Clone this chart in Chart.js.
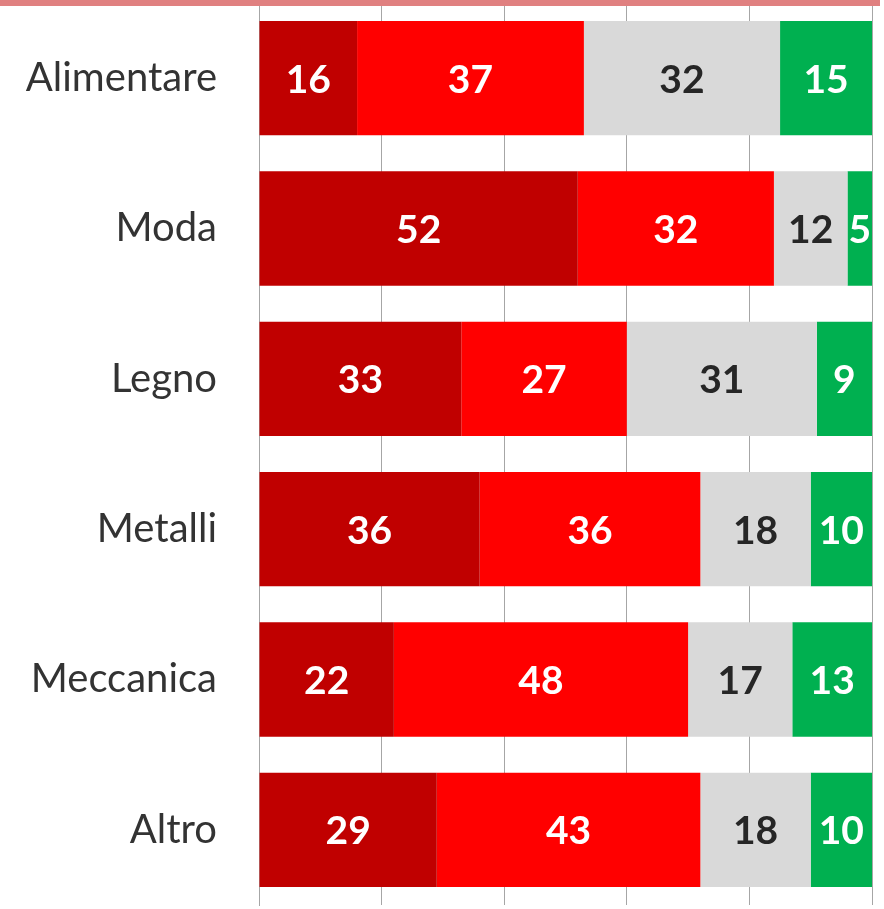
<!DOCTYPE html>
<html>
  <head>
    <title>Settori</title>
    <style>
      body {
        margin: 0;
        background: white;
      }

      .wrap{
        position: relative;
        width: 884px;
        height: 909px;
      }

      .topline{
        position: absolute;
        top: 0;
        left: 0;
        width: 880px;
        height: 6px;
        background-color: #E08080;
      }
    </style>
  </head>
  <body>
    <div class="wrap">
      <div class="topline"></div>
      <canvas id="settori" width="884" height="909"></canvas>
    </div>

    <script src="https://cdn.jsdelivr.net/npm/chart.js"></script>
    <script>
      const categories = ['Alimentare', 'Moda', 'Legno', 'Metalli', 'Meccanica', 'Altro'];

      const molto = [16, 52, 33, 36, 22, 29];
      const abbastanza = [37, 32, 27, 36, 48, 43];
      const poco = [32, 12, 31, 18, 17, 18];
      const perNulla = [15, 5, 9, 10, 13, 10];

      const xTicks = [0, 20, 40, 60, 80, 100];

      // etichette dentro le barre
      const barLabels = {
        id: 'barLabels',
        afterDatasetsDraw(chart) {
          const ctx = chart.ctx;
          ctx.save();
          ctx.font = 'bold 39px Lato';
          ctx.textAlign = 'center';
          ctx.textBaseline = 'middle';
          chart.data.datasets.forEach((ds, i) => {
            const meta = chart.getDatasetMeta(i);
            meta.data.forEach((bar, j) => {
              const left = Math.max(bar.base, chart.chartArea.left);
              const right = Math.min(bar.x, chart.chartArea.right);
              ctx.fillStyle = ds.labelColor;
              ctx.fillText(ds.data[j], (left + right) / 2, bar.y + 2);
            });
          });
          ctx.restore();
        }
      };

      new Chart(document.getElementById('settori'), {
        type: 'bar',
        data: {
          labels: categories,
          datasets: [
            { data: molto, backgroundColor: '#C00000', labelColor: '#FFFFFF' },
            { data: abbastanza, backgroundColor: '#FF0000', labelColor: '#FFFFFF' },
            { data: poco, backgroundColor: '#D9D9D9', labelColor: '#262626' },
            { data: perNulla, backgroundColor: '#00B050', labelColor: '#FFFFFF' }
          ]
        },
        options: {
          indexAxis: 'y',
          responsive: false,
          animation: false,
          barPercentage: 0.76,
          categoryPercentage: 1,
          layout: {
            padding: { top: 3, bottom: 4, right: 12, left: 0 }
          },
          plugins: {
            legend: { display: false },
            tooltip: { enabled: false }
          },
          scales: {
            x: {
              stacked: true,
              min: 0,
              max: 100,
              afterBuildTicks(scale) {
                scale.ticks = xTicks.map(v => ({ value: v }));
              },
              ticks: { display: false },
              grid: { color: '#A6A6A6', drawTicks: false, lineWidth: 1 },
              border: { display: false }
            },
            y: {
              stacked: true,
              afterFit(scale) {
                scale.width = 259;
                scale.paddingTop = 0;
                scale.paddingBottom = 0;
              },
              ticks: {
                color: '#333333',
                font: { family: 'Lato', size: 40 },
                padding: 42
              },
              grid: { display: false, drawTicks: false },
              border: { display: true, color: '#A6A6A6' }
            }
          }
        },
        plugins: [barLabels]
      });
    </script>
  </body>
</html>
